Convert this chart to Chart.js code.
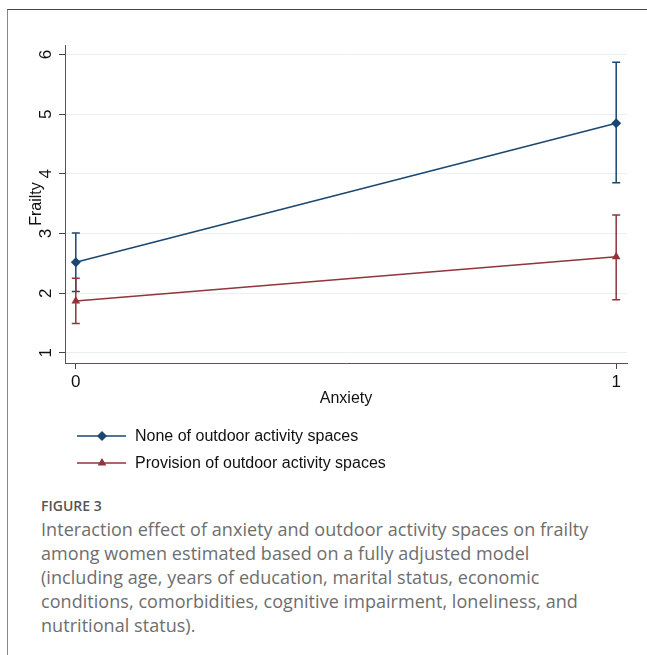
<!DOCTYPE html>
<html>
<head>
<meta charset="utf-8">
<script src="https://cdn.jsdelivr.net/npm/chart.js@4/dist/chart.umd.min.js"></script>
<style>
  html, body { margin: 0; padding: 0; background: #fff; }
  body { width: 647px; height: 655px; position: relative; overflow: hidden; }
  .frame { position: absolute; left: 7px; top: 9px; right: 0; bottom: 0;
           border-top: 1px solid #444; border-left: 1px solid #888; }
  .chart-box { position: absolute; left: 8px; top: 10px; width: 639px; height: 470px; }
  .caption { position: absolute; left: 41px; top: 497px; width: 606px;
             font-family: "Open Sans", sans-serif; color: #6e6e6e; }
  .caption .fig { font-size: 14px; font-weight: 600; color: #555; line-height: 18px; }
  .caption .txt { font-size: 18px; line-height: 24px; letter-spacing: 0.05px; margin-top: 2px; white-space: nowrap; }
</style>
</head>
<body>
<div class="frame"></div>
<div class="chart-box"><canvas id="chart"></canvas></div>
<div class="caption">
  <div class="fig">FIGURE 3</div>
  <div class="txt">Interaction effect of anxiety and outdoor activity spaces on frailty<br>among women estimated based on a fully adjusted model<br>(including age, years of education, marital status, economic<br>conditions, comorbidities, cognitive impairment, loneliness, and<br>nutritional status).</div>
</div>
<script>
// ── Data ──
const anxiety = [0, 1];
const noneMean = [2.52, 4.85];
const noneLow  = [2.03, 3.85];
const noneHigh = [3.01, 5.87];
const provMean = [1.87, 2.61];
const provLow  = [1.49, 1.89];
const provHigh = [2.25, 3.31];
const xTicks = [0, 1];
const yTicks = [1, 2, 3, 4, 5, 6];
const seriesNames = ['None of outdoor activity spaces', 'Provision of outdoor activity spaces'];

const BLUE = '#1a476f';
const RED = '#90353b';
const FONT = '"Liberation Sans", Arial, sans-serif';

Chart.defaults.font.family = FONT;
Chart.defaults.font.size = 16;
Chart.defaults.color = '#111';

// ── Error bars (CI) ──
const errorBars = {
    id: 'errorBars',
    beforeDatasetsDraw(chart) {
        const { ctx, scales: { x, y } } = chart;
        chart.data.datasets.forEach(ds => {
            ctx.save();
            ctx.strokeStyle = ds.borderColor;
            ctx.lineWidth = 1.5;
            ds.data.forEach(p => {
                const px = x.getPixelForValue(p.x);
                const lo = y.getPixelForValue(p.lo);
                const hi = y.getPixelForValue(p.hi);
                ctx.beginPath();
                ctx.moveTo(px, lo); ctx.lineTo(px, hi);
                ctx.moveTo(px - 4, lo); ctx.lineTo(px + 4, lo);
                ctx.moveTo(px - 4, hi); ctx.lineTo(px + 4, hi);
                ctx.stroke();
            });
            ctx.restore();
        });
    }
};

// ── Legend below the axis ──
const lineLegend = {
    id: 'lineLegend',
    afterDraw(chart) {
        const { ctx } = chart;
        chart.data.datasets.forEach((ds, i) => {
            const yy = 426 + i * 27;
            ctx.save();
            ctx.strokeStyle = ds.borderColor;
            ctx.lineWidth = 1.5;
            ctx.beginPath();
            ctx.moveTo(69, yy); ctx.lineTo(118, yy);
            ctx.stroke();
            ctx.fillStyle = ds.pointBackgroundColor;
            Chart.helpers.drawPoint(ctx, {
                pointStyle: ds.pointStyle, radius: ds.pointRadius, borderWidth: 0, rotation: 0
            }, 94, yy);
            ctx.fillStyle = '#111';
            ctx.font = '16px ' + FONT;
            ctx.textBaseline = 'middle';
            ctx.fillText(ds.label, 127, yy + 1);
            ctx.restore();
        });
    }
};

function points(mean, lo, hi) {
    return anxiety.map((v, i) => ({ x: v, y: mean[i], lo: lo[i], hi: hi[i] }));
}

new Chart(document.getElementById('chart'), {
    type: 'line',
    data: {
        datasets: [
            {
                label: seriesNames[0],
                data: points(noneMean, noneLow, noneHigh),
                borderColor: BLUE, backgroundColor: BLUE,
                pointBackgroundColor: BLUE, pointBorderWidth: 0,
                pointStyle: 'rectRot', pointRadius: 5,
                borderWidth: 1.5, tension: 0
            },
            {
                label: seriesNames[1],
                data: points(provMean, provLow, provHigh),
                borderColor: RED, backgroundColor: RED,
                pointBackgroundColor: RED, pointBorderWidth: 0,
                pointStyle: 'triangle', pointRadius: 5,
                borderWidth: 1.5, tension: 0
            }
        ]
    },
    options: {
        responsive: true, maintainAspectRatio: false,
        animation: false,
        layout: { padding: { left: 19, top: 35, right: 20, bottom: 70 } },
        plugins: { legend: { display: false }, tooltip: { enabled: false } },
        scales: {
            x: {
                type: 'linear', min: -0.02, max: 1.02,
                afterBuildTicks: ax => { ax.ticks = xTicks.map(v => ({ value: v })); },
                afterFit: ax => { ax.height = 47; },
                grid: { drawOnChartArea: false, tickLength: 6, tickColor: '#444', tickWidth: 1 },
                border: { color: '#555', width: 1 },
                ticks: { padding: 3, maxRotation: 0, color: '#111', font: { size: 17 } },
                title: { display: true, text: 'Anxiety', color: '#111', font: { size: 16 }, padding: { top: 0, bottom: 2 } }
            },
            y: {
                type: 'linear', min: 0.83, max: 6.16,
                afterBuildTicks: ax => { ax.ticks = yTicks.map(v => ({ value: v })); },
                afterFit: ax => { ax.width = 38; },
                grid: { color: '#e8f0f2', lineWidth: 1, tickLength: 6, tickColor: '#444', tickWidth: 1 },
                border: { color: '#555', width: 1 },
                ticks: { minRotation: 90, maxRotation: 90, crossAlign: 'center', padding: 8, color: '#111', font: { size: 17 } },
                title: { display: true, text: 'Frailty', color: '#111', font: { size: 16 }, padding: { top: 0, bottom: 0 } }
            }
        }
    },
    plugins: [errorBars, lineLegend]
});
</script>
</body>
</html>
